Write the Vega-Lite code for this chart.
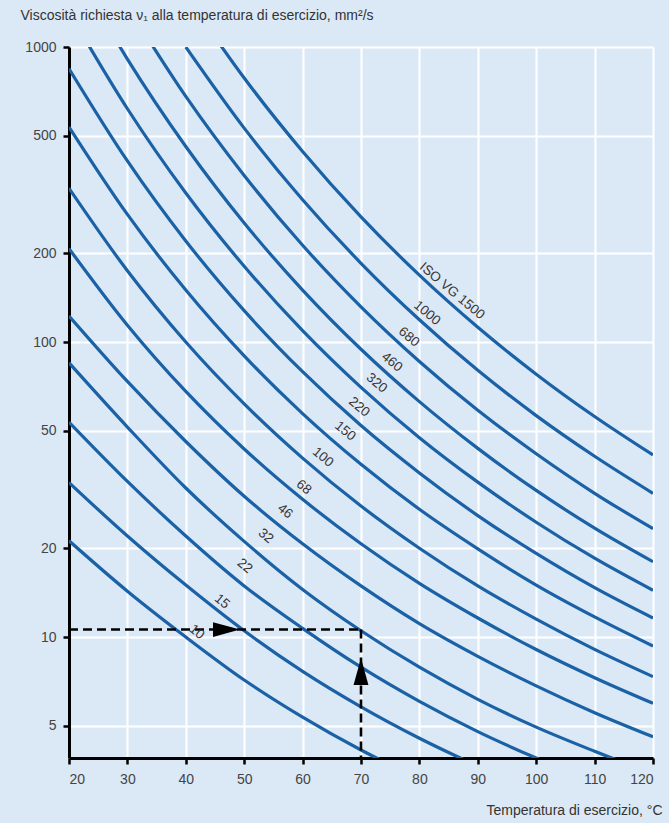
{
  "$schema": "https://vega.github.io/schema/vega-lite/v6.json",
  "width": 584,
  "height": 711,
  "autosize": {"type": "none"},
  "padding": {"left": 69, "top": 47, "right": 16, "bottom": 65},
  "background": "#dbe9f6",
  "config": {
    "view": {"stroke": null, "fill": "#dbe9f6"},
    "font": "Liberation Sans",
    "axis": {
      "gridColor": "#ffffff",
      "gridWidth": 2,
      "gridOpacity": 1,
      "domainColor": "#000000",
      "domainWidth": 3,
      "tickColor": "#000000",
      "tickWidth": 2.5,
      "tickSize": 6,
      "labelColor": "#444444",
      "labelFontSize": 14,
      "labelFont": "Liberation Sans",
      "titleFont": "Liberation Sans",
      "titleFontWeight": "normal",
      "titleColor": "#333333",
      "titleFontSize": 14
    }
  },
  "datasets": {
    "curves": [
      {"grade": "10", "T": 20, "v": 21.2}, {"grade": "10", "T": 30, "v": 14.3}, {"grade": "10", "T": 40, "v": 10.0}, {"grade": "10", "T": 50, "v": 7.15}, {"grade": "10", "T": 60, "v": 5.35}, {"grade": "10", "T": 70, "v": 4.14}, {"grade": "10", "T": 80, "v": 3.31},
      {"grade": "15", "T": 20, "v": 33.4}, {"grade": "15", "T": 30, "v": 22.0}, {"grade": "15", "T": 40, "v": 15}, {"grade": "15", "T": 50, "v": 10.5}, {"grade": "15", "T": 60, "v": 7.65}, {"grade": "15", "T": 70, "v": 5.8}, {"grade": "15", "T": 80, "v": 4.54}, {"grade": "15", "T": 90, "v": 3.65},
      {"grade": "22", "T": 20, "v": 53.5}, {"grade": "22", "T": 30, "v": 33.7}, {"grade": "22", "T": 40, "v": 22}, {"grade": "22", "T": 50, "v": 14.9}, {"grade": "22", "T": 60, "v": 10.7}, {"grade": "22", "T": 70, "v": 7.9}, {"grade": "22", "T": 80, "v": 6.05}, {"grade": "22", "T": 90, "v": 4.78}, {"grade": "22", "T": 100, "v": 3.89}, {"grade": "22", "T": 110, "v": 3.23},
      {"grade": "32", "T": 20, "v": 85}, {"grade": "32", "T": 30, "v": 51.5}, {"grade": "32", "T": 40, "v": 32}, {"grade": "32", "T": 50, "v": 21.1}, {"grade": "32", "T": 60, "v": 14.5}, {"grade": "32", "T": 70, "v": 10.5}, {"grade": "32", "T": 80, "v": 7.9}, {"grade": "32", "T": 90, "v": 6.15}, {"grade": "32", "T": 100, "v": 4.95}, {"grade": "32", "T": 110, "v": 4.1}, {"grade": "32", "T": 120, "v": 3.44},
      {"grade": "46", "T": 20, "v": 122.5}, {"grade": "46", "T": 30, "v": 73.5}, {"grade": "46", "T": 40, "v": 46}, {"grade": "46", "T": 50, "v": 30.0}, {"grade": "46", "T": 60, "v": 20.7}, {"grade": "46", "T": 70, "v": 14.9}, {"grade": "46", "T": 80, "v": 11.1}, {"grade": "46", "T": 90, "v": 8.6}, {"grade": "46", "T": 100, "v": 6.83}, {"grade": "46", "T": 110, "v": 5.54}, {"grade": "46", "T": 120, "v": 4.59},
      {"grade": "68", "T": 20, "v": 207.3}, {"grade": "68", "T": 30, "v": 114.0}, {"grade": "68", "T": 40, "v": 68}, {"grade": "68", "T": 50, "v": 43.4}, {"grade": "68", "T": 60, "v": 29.3}, {"grade": "68", "T": 70, "v": 20.7}, {"grade": "68", "T": 80, "v": 15.2}, {"grade": "68", "T": 90, "v": 11.6}, {"grade": "68", "T": 100, "v": 9.07}, {"grade": "68", "T": 110, "v": 7.28}, {"grade": "68", "T": 120, "v": 5.96},
      {"grade": "100", "T": 20, "v": 332.0}, {"grade": "100", "T": 30, "v": 174.4}, {"grade": "100", "T": 40, "v": 100}, {"grade": "100", "T": 50, "v": 61.7}, {"grade": "100", "T": 60, "v": 40.4}, {"grade": "100", "T": 70, "v": 27.8}, {"grade": "100", "T": 80, "v": 20.0}, {"grade": "100", "T": 90, "v": 14.9}, {"grade": "100", "T": 100, "v": 11.5}, {"grade": "100", "T": 110, "v": 9.08}, {"grade": "100", "T": 120, "v": 7.34},
      {"grade": "150", "T": 20, "v": 535.7}, {"grade": "150", "T": 30, "v": 270.7}, {"grade": "150", "T": 40, "v": 150}, {"grade": "150", "T": 50, "v": 89.7}, {"grade": "150", "T": 60, "v": 57.2}, {"grade": "150", "T": 70, "v": 38.5}, {"grade": "150", "T": 80, "v": 27.1}, {"grade": "150", "T": 90, "v": 19.9}, {"grade": "150", "T": 100, "v": 15.0}, {"grade": "150", "T": 110, "v": 11.7}, {"grade": "150", "T": 120, "v": 9.32},
      {"grade": "220", "T": 20, "v": 844.4}, {"grade": "220", "T": 30, "v": 410.9}, {"grade": "220", "T": 40, "v": 220}, {"grade": "220", "T": 50, "v": 127.7}, {"grade": "220", "T": 60, "v": 79.3}, {"grade": "220", "T": 70, "v": 52.1}, {"grade": "220", "T": 80, "v": 36.0}, {"grade": "220", "T": 90, "v": 25.8}, {"grade": "220", "T": 100, "v": 19.2}, {"grade": "220", "T": 110, "v": 14.7}, {"grade": "220", "T": 120, "v": 11.6},
      {"grade": "320", "T": 20, "v": 1315}, {"grade": "320", "T": 30, "v": 617.6}, {"grade": "320", "T": 40, "v": 320}, {"grade": "320", "T": 50, "v": 180.6}, {"grade": "320", "T": 60, "v": 109.3}, {"grade": "320", "T": 70, "v": 70.2}, {"grade": "320", "T": 80, "v": 47.4}, {"grade": "320", "T": 90, "v": 33.5}, {"grade": "320", "T": 100, "v": 24.5}, {"grade": "320", "T": 110, "v": 18.5}, {"grade": "320", "T": 120, "v": 14.4},
      {"grade": "460", "T": 20, "v": 1997}, {"grade": "460", "T": 30, "v": 909.9}, {"grade": "460", "T": 40, "v": 460}, {"grade": "460", "T": 50, "v": 253.2}, {"grade": "460", "T": 60, "v": 150.0}, {"grade": "460", "T": 70, "v": 94.5}, {"grade": "460", "T": 80, "v": 62.8}, {"grade": "460", "T": 90, "v": 43.6}, {"grade": "460", "T": 100, "v": 31.4}, {"grade": "460", "T": 110, "v": 23.4}, {"grade": "460", "T": 120, "v": 18.0},
      {"grade": "680", "T": 30, "v": 1377}, {"grade": "680", "T": 40, "v": 680}, {"grade": "680", "T": 50, "v": 366.8}, {"grade": "680", "T": 60, "v": 212.8}, {"grade": "680", "T": 70, "v": 131.6}, {"grade": "680", "T": 80, "v": 85.9}, {"grade": "680", "T": 90, "v": 58.7}, {"grade": "680", "T": 100, "v": 41.8}, {"grade": "680", "T": 110, "v": 30.7}, {"grade": "680", "T": 120, "v": 23.3},
      {"grade": "1000", "T": 40, "v": 1000}, {"grade": "1000", "T": 50, "v": 530.9}, {"grade": "1000", "T": 60, "v": 303.6}, {"grade": "1000", "T": 70, "v": 184.9}, {"grade": "1000", "T": 80, "v": 119.0}, {"grade": "1000", "T": 90, "v": 80.2}, {"grade": "1000", "T": 100, "v": 56.3}, {"grade": "1000", "T": 110, "v": 41.0}, {"grade": "1000", "T": 120, "v": 30.7},
      {"grade": "1500", "T": 40, "v": 1500}, {"grade": "1500", "T": 50, "v": 784.9}, {"grade": "1500", "T": 60, "v": 442.5}, {"grade": "1500", "T": 70, "v": 265.6}, {"grade": "1500", "T": 80, "v": 168.5}, {"grade": "1500", "T": 90, "v": 112.2}, {"grade": "1500", "T": 100, "v": 77.8}, {"grade": "1500", "T": 110, "v": 55.9}, {"grade": "1500", "T": 120, "v": 41.4}
    ],
    "labels": [
      {"T": 85.6, "v": 148.9, "text": "ISO VG 1500"},
      {"T": 81.3, "v": 125.4, "text": "1000"},
      {"T": 78.2, "v": 104, "text": "680"},
      {"T": 75.3, "v": 85.5, "text": "460"},
      {"T": 72.7, "v": 72.6, "text": "320"},
      {"T": 69.7, "v": 60.2, "text": "220"},
      {"T": 67.3, "v": 49.9, "text": "150"},
      {"T": 63.5, "v": 40.7, "text": "100"},
      {"T": 60.2, "v": 32.2, "text": "68"},
      {"T": 57.0, "v": 26.7, "text": "46"},
      {"T": 53.7, "v": 22.0, "text": "32"},
      {"T": 50.1, "v": 17.4, "text": "22"},
      {"T": 46.2, "v": 13.2, "text": "15"},
      {"T": 41.9, "v": 10.4, "text": "10"}
    ],
    "guide": [
      {"seg": "h", "T": 20, "v": 10.6},
      {"seg": "h", "T": 70, "v": 10.6},
      {"seg": "v", "T": 70, "v": 10.6},
      {"seg": "v", "T": 70, "v": 3.89}
    ],
    "arrows": [
      {"dir": "right", "T": 46.97, "v": 10.6},
      {"dir": "up", "T": 70, "v": 7.64}
    ]
  },
  "encoding": {
    "x": {
      "field": "T",
      "type": "quantitative",
      "scale": {"domain": [20, 120], "nice": false, "zero": false},
      "axis": {
        "values": [20, 30, 40, 50, 60, 70, 80, 90, 100, 110, 120],
        "labelPadding": 8,
        "title": "Temperatura di esercizio, °C",
        "titleAlign": "right",
        "titleAnchor": null,
        "titleX": 593,
        "titleY": 52,
        "titleBaseline": "middle"
      }
    },
    "y": {
      "field": "v",
      "type": "quantitative",
      "scale": {"type": "log", "domain": [3.89, 1000], "nice": false},
      "axis": {
        "values": [5, 10, 20, 50, 100, 200, 500, 1000],
        "format": "d",
        "labelPadding": 7,
        "title": "Viscosità richiesta ν₁ alla temperatura di esercizio, mm²/s",
        "titleAngle": 0,
        "titleAlign": "left",
        "titleAnchor": null,
        "titleX": -49,
        "titleY": -32,
        "titleBaseline": "middle"
      }
    }
  },
  "layer": [
    {
      "data": {"name": "curves"},
      "mark": {"type": "line", "clip": true, "interpolate": "monotone", "strokeWidth": 3.2, "color": "#1a61a6"},
      "encoding": {"detail": {"field": "grade"}}
    },
    {
      "data": {"name": "guide"},
      "mark": {"type": "line", "strokeDash": [9, 5], "strokeWidth": 2.6, "color": "#000000"},
      "encoding": {"detail": {"field": "seg"}}
    },
    {
      "data": {"name": "arrows"},
      "transform": [{"filter": "datum.dir == 'right'"}],
      "mark": {"type": "point", "filled": true, "opacity": 1, "color": "#000000", "size": 729, "shape": "M-1,-0.55L1,0L-1,0.55Z"}
    },
    {
      "data": {"name": "arrows"},
      "transform": [{"filter": "datum.dir == 'up'"}],
      "mark": {"type": "point", "filled": true, "opacity": 1, "color": "#000000", "size": 729, "shape": "M-0.55,1L0,-1L0.55,1Z"}
    },
    {
      "data": {"name": "labels"},
      "mark": {"type": "text", "angle": 40, "align": "center", "baseline": "middle", "fontSize": 13.5, "color": "#3a3434", "font": "Liberation Sans"},
      "encoding": {"text": {"field": "text"}}
    }
  ]
}
